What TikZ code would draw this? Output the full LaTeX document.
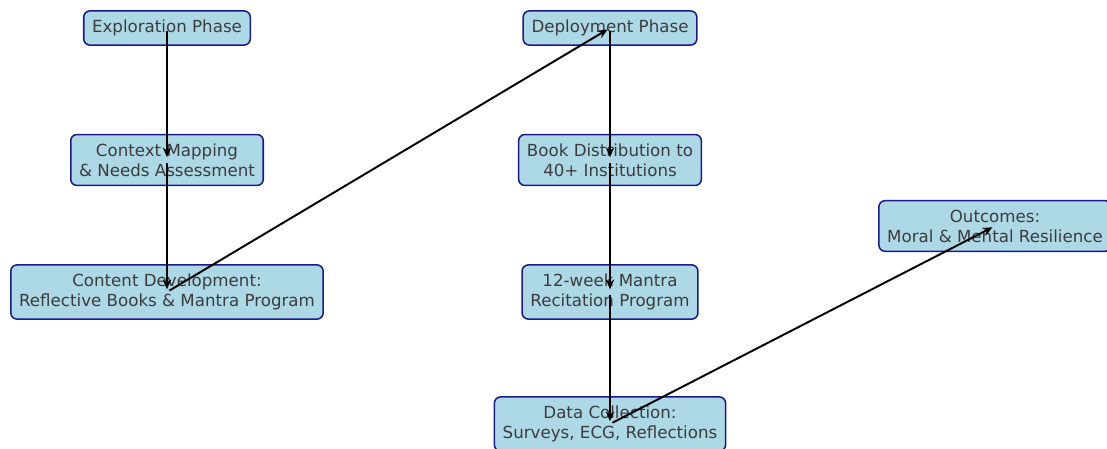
\documentclass[tikz,border=0pt]{standalone}
\usepackage{fontspec}
\setmainfont{DejaVu Sans}
\usetikzlibrary{arrows.meta}
\definecolor{boxfill}{HTML}{ADD8E6}
\definecolor{boxline}{HTML}{1A1A8C}
\definecolor{txt}{HTML}{3C3C3C}
\tikzset{
  phase/.style={draw=boxline, fill=boxfill, line width=1.1pt, rounded corners=4.5pt,
    align=center, text=txt, font=\fontsize{12}{14.4}\selectfont,
    inner xsep=6pt, inner ysep=6.5pt},
  flow/.style={draw=black, line width=1.4pt, -{Stealth[length=7pt,width=6pt]},
    shorten >=2pt, shorten <=2pt}
}
\begin{document}
\begin{tikzpicture}[x=0.72pt, y=-0.72pt]
\useasboundingbox (0,0) rectangle (1107,449);
\clip (0,0) rectangle (1107,449);
\node[phase] (explore) at (167,28) {Exploration Phase};
\node[phase] (context) at (167,160) {Context Mapping\\\& Needs Assessment};
\node[phase] (content) at (167,292) {Content Development:\\Reflective Books \& Mantra Program};
\node[phase] (deploy) at (610,28) {Deployment Phase};
\node[phase] (book) at (610,160) {Book Distribution to\\40+ Institutions};
\node[phase] (mantra) at (610,292) {12-week Mantra\\Recitation Program};
\node[phase] (data) at (610,424) {Data Collection:\\Surveys, ECG, Reflections};
\node[phase] (out) at (995,226) {Outcomes:\\Moral \& Mental Resilience};
\draw[flow] (explore.center) -- (context.center);
\draw[flow] (context.center) -- (content.center);
\draw[flow] (content.center) -- (deploy.center);
\draw[flow] (deploy.center) -- (book.center);
\draw[flow] (book.center) -- (mantra.center);
\draw[flow] (mantra.center) -- (data.center);
\draw[flow] (data.center) -- (out.center);
\end{tikzpicture}
\end{document}
